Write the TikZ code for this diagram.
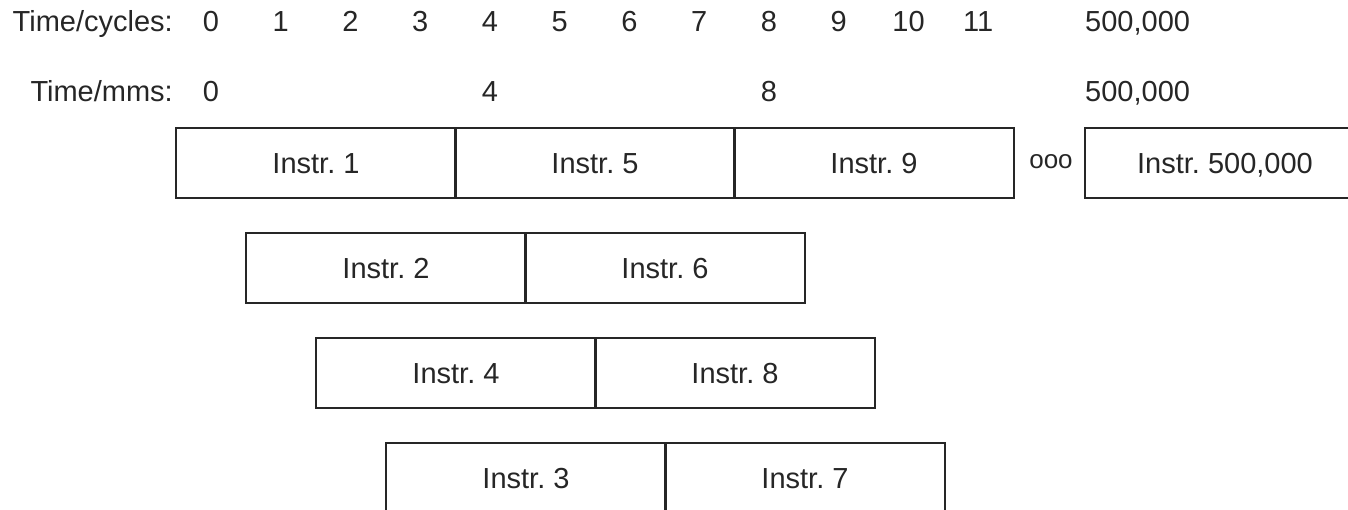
\documentclass[tikz,border=0pt]{standalone}
\usepackage{fontspec}
\setmainfont{Liberation Sans}
\frenchspacing
\begin{document}
\begin{tikzpicture}[x=1pt,y=-1pt,
  every node/.style={font=\fontsize{29}{34}\selectfont, text=black!85},
  ibox/.style={draw=black!85, line width=1.6pt, minimum width=280pt, minimum height=70pt,
    inner sep=0pt, text height=20.8pt, text depth=0pt},
  lbl/.style={anchor=base, inner sep=0pt}]
\useasboundingbox (0,0) rectangle (1348,510);
\clip (0,0) rectangle (1348,510);
% time axis labels
\node[lbl, anchor=base east] (tc) at (173,32) {Time/cycles:};
\node[lbl, anchor=base east] (tm) at (173,102) {Time/mms:};
\foreach \k in {0,...,11}{
  \node[lbl] (c\k) at ({211+69.75*\k},32) {\k};
}
\node[lbl, anchor=base west] (cend) at (1085,32) {500,000};
\foreach \k in {0,4,8}{
  \node[lbl] (m\k) at ({211+69.75*\k},102) {\k};
}
\node[lbl, anchor=base west] (mend) at (1085,102) {500,000};
% row 1
\node[ibox] (i1) at (316,163) {Instr. 1};
\node[ibox] (i5) at (595,163) {Instr. 5};
\node[ibox] (i9) at (874,163) {Instr. 9};
\node[inner sep=0pt, font=\fontsize{26}{32}\selectfont] (dots) at (1051,162) {ooo};
\node[ibox] (iend) at (1225,163) {Instr. 500,000};
% row 2
\node[ibox] (i2) at (386,268) {Instr. 2};
\node[ibox] (i6) at (665,268) {Instr. 6};
% row 3
\node[ibox] (i4) at (456,373) {Instr. 4};
\node[ibox] (i8) at (735,373) {Instr. 8};
% row 4
\node[ibox] (i3) at (526,478) {Instr. 3};
\node[ibox] (i7) at (805,478) {Instr. 7};
\end{tikzpicture}
\end{document}
